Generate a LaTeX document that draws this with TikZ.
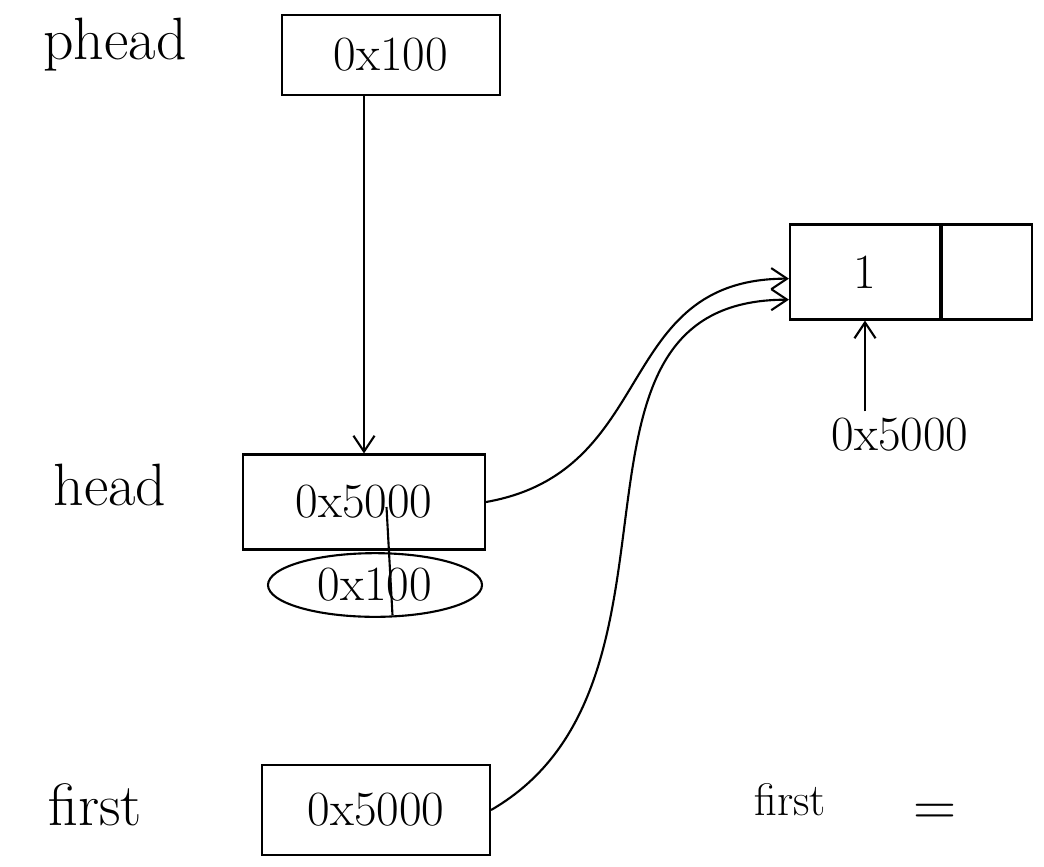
\documentclass[tikz,border=0pt]{standalone}
\usepackage{fontspec}
\usetikzlibrary{positioning,calc,shapes.geometric,arrows.meta}

\tikzset{
  box/.style={draw, minimum height=1.8cm, font=\fontsize{28}{32}\selectfont},
  lbl/.style={font=\fontsize{34}{40}\selectfont},
  >={Straight Barb[length=9pt,width=12pt]},
}

\begin{document}
\begin{tikzpicture}[line width=1.2pt]
  \useasboundingbox (0,0) rectangle (20.88,-17.32);

  % 指针变量
  \node[lbl] (phead) at (2.3,-0.9) {phead};
  \node[box, minimum width=4.36cm, minimum height=1.6cm] (pbox) at (7.82,-1.1) {0x100};

  \node[lbl] (head) at (2.2,-9.7) {head};
  \node[box, minimum width=4.84cm, minimum height=1.9cm] (hbox) at (7.28,-10.04) {0x5000};
  \node[draw, ellipse, minimum width=4.28cm, minimum height=1.2cm,
        font=\fontsize{28}{32}\selectfont] (ell) at (7.5,-11.7) {0x100};

  \node[lbl] (first) at (1.9,-16.1) {first};
  \node[box, minimum width=4.56cm] (fbox) at (7.52,-16.2) {0x5000};

  % 结点
  \node[box, minimum width=3cm, minimum height=1.9cm] (data) at (17.3,-5.44) {1};
  \node[box, minimum width=1.8cm, minimum height=1.9cm, right=0pt of data] (nxt) {};
  \node[font=\fontsize{28}{32}\selectfont] (addr) at (18.0,-8.7) {0x5000};

  % 箭头
  \draw[->] (pbox.south -| hbox.north) -- (hbox.north);
  \draw[->] (hbox.east) to[out=10, in=180, looseness=1.2] (data.185);
  \draw[->] (fbox.east) to[out=30, in=180, looseness=1.1] (data.200);
  \draw[->] (addr.north -| data.south) -- (data.south);
  \draw ($(hbox.center)+(0.45,-0.1)$) -- ($(ell.south)+(0.35,0.05)$);

  % 右下
  \node[font=\fontsize{26}{30}\selectfont] (ftxt) at (15.8,-16.0) {first};
  \node[font=\fontsize{34}{40}\selectfont] (eq) at (18.7,-16.3) {=};
\end{tikzpicture}
\end{document}
